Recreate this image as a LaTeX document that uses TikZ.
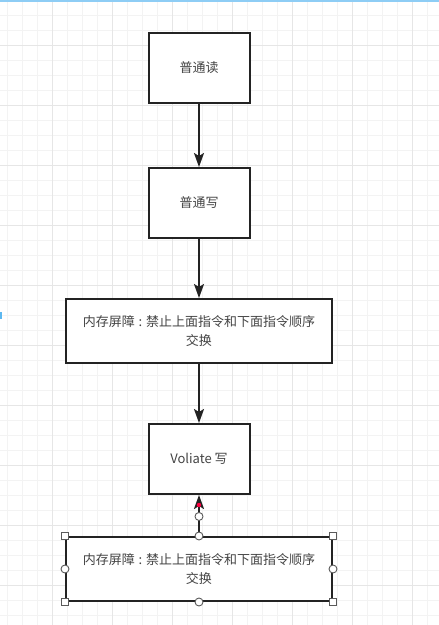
\documentclass[tikz,border=0pt]{standalone}
\usepackage{fontspec}
\setmainfont{Noto Sans CJK SC}
\usetikzlibrary{positioning,arrows.meta,calc}
\definecolor{edge}{HTML}{232323}
\definecolor{txt}{HTML}{444444}
\definecolor{gridminor}{HTML}{F3F3F3}
\definecolor{gridmajor}{HTML}{E6E6E6}
\definecolor{knob}{HTML}{5A5A5A}
\definecolor{selblue}{HTML}{5DB8F0}
\newcommand{\cncolon}{\kern0.3em:\kern0.3em}

\begin{document}
\begin{tikzpicture}[
  x=1pt, y=-1pt,
  every node/.style={font=\fontsize{13}{19.5}\selectfont, text=txt},
  proc/.style ={draw=edge, line width=2pt, fill=white, minimum width=101pt,
                minimum height=70pt, align=center, inner sep=0pt},
  wide/.style ={proc, minimum width=266pt, minimum height=64pt},
  arr/.style  ={-{Stealth[length=14pt, width=10pt, inset=3pt]}, line width=2pt, draw=edge},
  sq/.style   ={draw=knob, fill=white, line width=0.9pt, minimum size=7pt, inner sep=0pt},
  knobc/.style={draw=knob, fill=white, line width=0.9pt, circle, minimum size=8pt, inner sep=0pt}]

\useasboundingbox (0,0) rectangle (439,625);
\fill[white] (0,0) rectangle (439,625);

%% background grid of the editor
\foreach \x in {7,22,...,439} \draw[gridminor, line width=0.8pt] (\x,0) -- (\x,625);
\foreach \y in {0,15,...,625} \draw[gridminor, line width=0.8pt] (0,\y) -- (439,\y);
\foreach \x in {52,112,...,439} \draw[gridmajor, line width=0.8pt] (\x,0) -- (\x,625);
\foreach \y in {45,105,...,625} \draw[gridmajor, line width=0.8pt] (0,\y) -- (439,\y);
\fill[selblue!70] (0,0) rectangle (439,1.5);
\fill[selblue] (0,312) rectangle (1.5,319);

\node[proc] (read) at (199,68) {普通读};
\node[proc, below=63pt of read]   (write)  {普通写};
\node[wide, below=59pt of write]  (barA)   {内存屏障\cncolon 禁止上面指令和下面指令顺序\\交换};
\node[proc, below=59pt of barA]   (vwrite) {Voliate 写};
\node[wide, below=41pt of vwrite] (barB)   {内存屏障\cncolon 禁止上面指令和下面指令顺序\\交换};

\draw[arr] (read)  -- (write);
\draw[arr] (write) -- (barA);
\draw[arr] (barA)  -- (vwrite);
\draw[arr] (barB)  -- (vwrite);

%% selection handles of the last box and its connector
\fill[red!75!magenta] ($(vwrite.south)+(0,10)$) circle (2.2pt);
\node[knobc, below=17pt of vwrite] (tipKnob) {};
\node[sq]    (sqNW) at (barB.north west) {};
\node[sq]    (sqNE) at (barB.north east) {};
\node[sq]    (sqSW) at (barB.south west) {};
\node[sq]    (sqSE) at (barB.south east) {};
\node[knobc] (kN) at (barB.north) {};
\node[knobc] (kS) at (barB.south) {};
\node[knobc] (kW) at (barB.west) {};
\node[knobc] (kE) at (barB.east) {};
\end{tikzpicture}
\end{document}
